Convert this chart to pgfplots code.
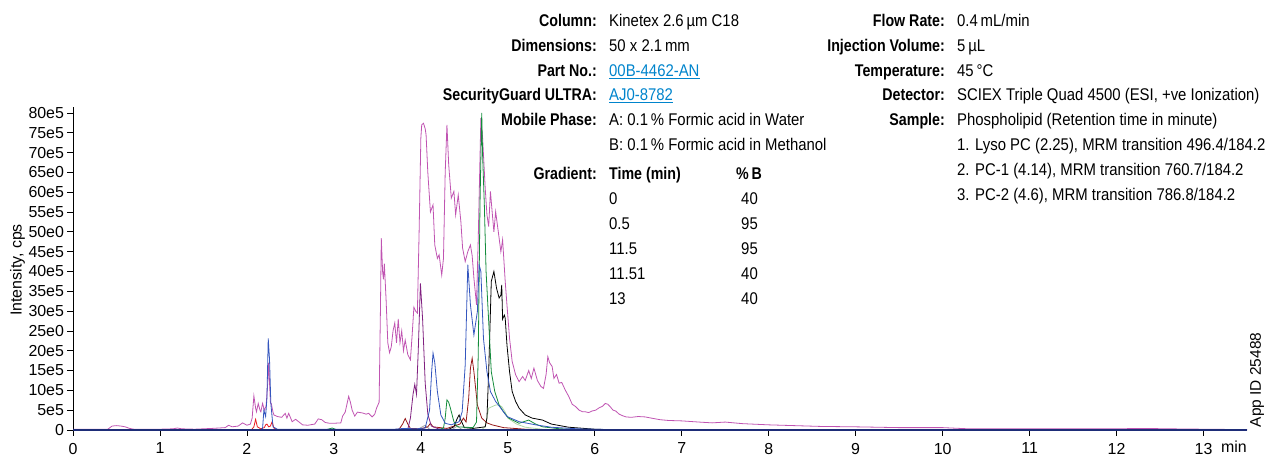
\documentclass[border=0pt]{standalone}
\usepackage{pgfplots}
\pgfplotsset{compat=1.18}
\usepackage{fontspec}
\setmainfont{Liberation Sans}
\newfontfamily\condreg[FakeStretch=0.88]{Liberation Sans}
\newfontfamily\condbf[FakeStretch=0.84]{Liberation Sans}
\definecolor{cmag}{RGB}{192,84,178}
\definecolor{cblue}{RGB}{52,86,190}
\definecolor{cred}{RGB}{235,30,35}
\definecolor{cmaroon}{RGB}{150,25,25}
\definecolor{cpurple}{RGB}{128,32,128}
\definecolor{cgreen}{RGB}{20,140,60}
\definecolor{clgreen}{RGB}{175,215,165}
\definecolor{cgray}{RGB}{165,165,165}
\definecolor{cnavy}{RGB}{30,45,120}
\definecolor{clink}{RGB}{0,132,204}
\tikzset{
  lab/.style={anchor=base east, inner sep=0pt, font=\fontsize{17}{17}\selectfont\condbf\bfseries},
  val/.style={anchor=base west, inner sep=0pt, font=\fontsize{17}{17}\selectfont\condreg},
  valc/.style={anchor=base, inner sep=0pt, font=\fontsize{17}{17}\selectfont\condreg},
}
\begin{document}
\begin{tikzpicture}
\useasboundingbox (0,0) rectangle (1279bp,455bp);
\begin{axis}[
  at={(73bp,25bp)}, anchor=south west,
  scale only axis, width=1174bp, height=323bp,
  xmin=0, xmax=13.5, ymin=0, ymax=81.5,
  axis x line*=bottom, axis y line*=left,
  axis line style={black, line width=0.7bp},
  xtick={0,1,...,13},
  ytick={0,5,...,80},
  yticklabels={0,5e5,10e5,15e5,20e5,25e0,30e5,35e5,40e5,45e5,50e0,55e5,60e5,65e0,70e5,75e5,80e5},
  tick align=outside, major tick length=5.5bp,
  tick style={black, line width=0.7bp},
  minor tick num=0,
  ticklabel style={font=\fontsize{16}{16}\selectfont},
  xticklabel style={yshift=-4bp},
  /pgf/number format/assume math mode=true,
  clip=false,
]
% magenta (total)
\addplot[cmag, line width=0.8bp] coordinates {
(0,0.2)(0.4,0.2)(0.45,1.0)(0.5,1.1)(0.55,1.0)(0.6,0.8)(0.65,0.4)(0.7,0.2)(1.0,0.2)(1.15,0.3)(1.2,0.5)(1.25,0.3)(1.4,0.2)(1.6,0.4)(1.75,0.6)(1.79,1.2)(1.83,0.8)(1.9,1.0)(1.95,1.8)(2.0,1.2)(2.04,1.5)(2.06,3)(2.08,8.6)(2.1,5.5)(2.11,4.6)(2.13,6.7)(2.15,5)(2.16,4.6)(2.18,6.7)(2.2,5)(2.22,6.0)(2.24,12)(2.25,17)(2.26,12)(2.27,6.9)(2.28,6.7)(2.3,4.5)(2.31,3.8)(2.35,3.4)(2.4,3.2)(2.44,4.2)(2.46,3.0)(2.48,4.2)(2.52,2.1)(2.56,2.7)(2.6,2.0)(2.64,1.3)(2.7,1.2)(2.78,1.5)(2.82,2.8)(2.86,2.6)(2.9,1.9)(2.95,1.7)(3.0,1.7)(3.08,1.8)(3.1,3.5)(3.13,4.5)(3.15,6.5)(3.17,8.5)(3.19,7)(3.21,5)(3.24,3.5)(3.27,4.5)(3.3,4.4)(3.33,4.3)(3.37,4.0)(3.4,4.2)(3.44,3.3)(3.47,4.0)(3.49,5.5)(3.52,7)(3.535,30)(3.545,48.4)(3.56,40)(3.57,38)(3.58,42)(3.6,33)(3.62,22)(3.64,19.5)(3.66,21)(3.68,25)(3.7,27)(3.72,22)(3.74,28)(3.76,22)(3.78,25)(3.8,20)(3.82,22.7)(3.85,19)(3.88,17.7)(3.9,24)(3.92,31)(3.94,30)(3.96,29.5)(3.98,50)(4.0,73.7)(4.01,77)(4.03,77.4)(4.05,76)(4.06,74.5)(4.08,65)(4.11,55)(4.14,56.8)(4.16,46.7)(4.19,43.3)(4.21,44.2)(4.24,39.1)(4.26,43.3)(4.28,65)(4.30,77)(4.32,67)(4.35,58.5)(4.38,60.2)(4.40,54.3)(4.43,59.3)(4.46,52.6)(4.48,45.9)(4.51,42.5)(4.54,45)(4.57,46.7)(4.59,44)(4.61,38.3)(4.64,31.6)(4.66,48.4)(4.69,78.7)(4.71,73.7)(4.74,61)(4.76,54.3)(4.78,51.3)(4.80,60.2)(4.82,55)(4.84,50)(4.86,55.1)(4.89,50.1)(4.92,45)(4.94,48)(4.97,37.5)(4.99,31.6)(5.02,23.1)(5.05,17.3)(5.09,13.9)(5.13,12.2)(5.17,13.5)(5.2,12.5)(5.24,15)(5.27,13)(5.3,15.6)(5.34,12.5)(5.38,11)(5.41,10.5)(5.44,14)(5.46,18.5)(5.48,17)(5.51,16)(5.53,13)(5.56,14)(5.59,11.8)(5.62,12)(5.66,10.1)(5.7,8.5)(5.74,6.5)(5.78,5.9)(5.82,5.0)(5.86,4.6)(5.89,4.6)(5.93,4.4)(5.97,4.8)(6.01,5.0)(6.05,5.6)(6.09,6.0)(6.12,6.7)(6.15,6.5)(6.18,5.8)(6.21,5.0)(6.24,4.8)(6.28,4.0)(6.32,3.6)(6.36,3.3)(6.42,3.2)(6.5,3.4)(6.58,3.3)(6.65,3.0)(6.75,2.6)(6.85,2.4)(7.0,2.3)(7.2,2.0)(7.35,1.8)(7.5,2.0)(7.7,1.6)(8.0,1.3)(8.3,1.1)(8.6,0.9)(9.0,0.8)(9.5,0.6)(10.0,0.6)(10.3,0.3)(11,0.3)(12,0.3)(12.3,0.4)(12.6,0.3)(13,0.2)(13.5,0.1)
};
% light green
\addplot[clgreen, line width=0.8bp] coordinates {
(4.7,0)(4.74,1)(4.78,5.5)(4.82,5.9)(4.86,6.3)(4.9,6.3)(4.93,5.9)(4.97,4.5)(5.0,3)(5.1,1.5)(5.2,0.7)(5.4,0.2)(5.6,0)
};
% gray
\addplot[cgray, line width=0.8bp] coordinates {
(3.95,0)(4.05,1.2)(4.1,0.2)(4.35,0)(4.42,1.0)(4.46,0.3)(4.5,0)
};
% red
\addplot[cred, line width=0.8bp] coordinates {
(1.9,0)(2.05,0)(2.08,0.8)(2.10,2.7)(2.12,0.8)(2.16,0.3)(2.2,0.6)(2.215,1.3)(2.23,1.5)(2.25,0.8)(2.27,1.0)(2.29,2.1)(2.31,0.5)(2.35,0)(2.5,0)
};
% maroon
\addplot[cmaroon, line width=0.8bp] coordinates {
(3.6,0)(3.75,0.2)(3.79,1.5)(3.82,2.9)(3.85,1.5)(3.88,0.4)(4.0,0.3)(4.08,0.8)(4.11,1.7)(4.14,0.8)(4.3,0.4)(4.45,1.5)(4.49,3)(4.52,2)(4.55,8)(4.57,15.6)(4.59,18.1)(4.61,14.7)(4.65,6.3)(4.70,3)(4.76,1.8)(4.82,1.3)(4.95,0.6)(5.2,0.2)(5.5,0)
};
% purple
\addplot[cpurple, line width=0.8bp] coordinates {
(3.7,0)(3.85,0.2)(3.88,3)(3.91,9)(3.93,11.5)(3.95,9)(3.97,20)(3.995,37)(4.02,28)(4.05,11.8)(4.08,4)(4.12,1)(4.2,0.3)(4.4,0)
};
% black
\addplot[black, line width=0.8bp] coordinates {
(4.3,0)(4.38,0.8)(4.42,3)(4.44,3.8)(4.46,2.5)(4.5,0.6)(4.6,0.4)(4.74,0.8)(4.76,3)(4.78,14.7)(4.81,37.5)(4.84,40)(4.87,35.8)(4.90,33.3)(4.92,34)(4.93,36.6)(4.94,28)(4.96,29)(4.97,28.2)(4.99,21.5)(5.02,14.7)(5.05,9.7)(5.09,7.2)(5.13,5.5)(5.2,3.8)(5.28,3)(5.4,2.5)(5.5,1.5)(5.7,0.7)(6,0.2)(6.3,0)
};
% green
\addplot[cgreen, line width=0.8bp] coordinates {
(2.9,0)(2.98,0.5)(3.04,0)(4.2,0)(4.26,0.5)(4.28,3)(4.30,7.6)(4.32,7)(4.34,5.5)(4.38,2.1)(4.42,0.8)(4.6,0.6)(4.64,2)(4.66,19)(4.68,56.8)(4.70,80)(4.71,69.4)(4.73,56.8)(4.75,40)(4.78,27.4)(4.81,14.7)(4.85,9.7)(4.90,6.3)(4.95,4.6)(5.01,3)(5.13,1.7)(5.24,2.5)(5.32,1.5)(5.4,0.8)(5.6,0.3)(6,0)
};
% blue
\addplot[cblue, line width=0.8bp] coordinates {
(0,0)(2.15,0)(2.18,0.4)(2.195,5)(2.215,3.4)(2.23,8)(2.245,23.1)(2.26,17.7)(2.275,6.7)(2.3,0.8)(2.35,0.2)(3.7,0.2)(3.8,0.4)(3.95,0.3)(4.05,0.5)(4.1,5)(4.125,15)(4.14,19.4)(4.16,17)(4.19,9.7)(4.23,3.8)(4.28,1.7)(4.35,1.3)(4.44,2.1)(4.475,4.6)(4.51,16.4)(4.54,41.7)(4.57,31.6)(4.61,24)(4.65,29.9)(4.67,41.7)(4.69,40)(4.72,23.1)(4.76,14.7)(4.8,9.7)(4.86,7.2)(4.92,5.5)(4.99,3.4)(5.13,2.1)(5.32,1.3)(5.5,0.7)(5.8,0.3)(6.2,0.1)(13.5,0)
};
% baseline
\addplot[cnavy, line width=1.4bp] coordinates {(0,0)(13.5,0)};
\end{axis}
% axis texts
\node[rotate=90, inner sep=0pt, font=\fontsize{16}{16}\selectfont] at (17.5bp,185bp) {Intensity, cps};
\node[anchor=base east, inner sep=0pt, font=\fontsize{16}{16}\selectfont] at (1247bp,3bp) {min};
\node[rotate=90, inner sep=0pt, font=\fontsize{15.5}{15.5}\selectfont] at (1257bp,75bp) {App ID 25488};
% left info block
\node[lab] at (597bp,428.3bp) {Column:};
\node[val] at (609bp,428.3bp) {Kinetex 2.6\,µm C18};
\node[lab] at (597bp,403.3bp) {Dimensions:};
\node[val] at (609bp,403.3bp) {50 x 2.1\,mm};
\node[lab] at (597bp,378.5bp) {Part No.:};
\node[val, text=clink] at (609bp,378.5bp) {\underline{00B-4462-AN}};
\node[lab] at (597bp,354bp) {SecurityGuard ULTRA:};
\node[val, text=clink] at (609bp,354bp) {\underline{AJ0-8782}};
\node[lab] at (597bp,329bp) {Mobile Phase:};
\node[val] at (609bp,329bp) {A: 0.1\,\% Formic acid in Water};
\node[val] at (609bp,304bp) {B: 0.1\,\% Formic acid in Methanol};
\node[lab] at (597bp,275bp) {Gradient:};
\node[lab, anchor=base west] at (609bp,275bp) {Time (min)};
\node[lab, anchor=base] at (749bp,275bp) {\%\,B};
\node[val] at (609bp,250bp) {0};
\node[valc] at (749.5bp,250bp) {40};
\node[val] at (609bp,225bp) {0.5};
\node[valc] at (749.5bp,225bp) {95};
\node[val] at (609bp,200bp) {11.5};
\node[valc] at (749.5bp,200bp) {95};
\node[val] at (609bp,175bp) {11.51};
\node[valc] at (749.5bp,175bp) {40};
\node[val] at (609bp,150bp) {13};
\node[valc] at (749.5bp,150bp) {40};
% right info block
\node[lab] at (945bp,428.3bp) {Flow Rate:};
\node[val] at (957bp,428.3bp) {0.4\,mL/min};
\node[lab] at (945bp,403.3bp) {Injection Volume:};
\node[val] at (957bp,403.3bp) {5\,µL};
\node[lab] at (945bp,378.3bp) {Temperature:};
\node[val] at (957bp,378.3bp) {45\,°C};
\node[lab] at (945bp,354bp) {Detector:};
\node[val] at (957bp,354bp) {SCIEX Triple Quad 4500 (ESI, +ve Ionization)};
\node[lab] at (945bp,329bp) {Sample:};
\node[val] at (957bp,329bp) {Phospholipid (Retention time in minute)};
\node[val] at (957bp,304bp) {1. Lyso PC (2.25), MRM transition 496.4/184.2};
\node[val] at (957bp,279bp) {2. PC-1 (4.14), MRM transition 760.7/184.2};
\node[val] at (957bp,254bp) {3. PC-2 (4.6), MRM transition 786.8/184.2};
\end{tikzpicture}
\end{document}
